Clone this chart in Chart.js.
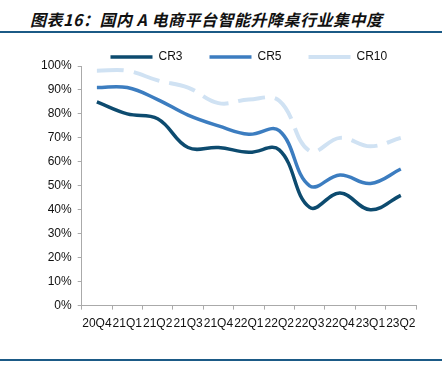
<!DOCTYPE html>
<html>
<head>
<meta charset="utf-8">
<script src="https://cdn.jsdelivr.net/npm/chart.js@4/dist/chart.umd.min.js"></script>
<style>
  html, body { margin: 0; padding: 0; background: #fff; }
  body { width: 442px; height: 366px; position: relative; overflow: hidden; }
  #title {
    position: absolute; left: 30px; top: 7px;
    font-family: "Noto Sans CJK SC", sans-serif; font-size: 16px;
    font-weight: bold; font-style: italic; color: #111; letter-spacing: 0.5px;
  }
  .rule { position: absolute; left: 0; width: 442px; height: 2px; background: #1b5a86; }
  #box { position: absolute; left: 0; top: 22px; width: 442px; height: 316px; }
</style>
</head>
<body>
<div id="title">图表16：国内 A 电商平台智能升降桌行业集中度</div>
<div class="rule" style="top:31px"></div>
<div id="box"><canvas id="chart"></canvas></div>
<div class="rule" style="top:359px"></div>
<script>
// 季度
const quarters = ['20Q4', '21Q1', '21Q2', '21Q3', '21Q4', '22Q1', '22Q2', '22Q3', '22Q4', '23Q1', '23Q2'];
// 集中度 (%)
const cr3 = [85, 80, 78, 66, 66, 64, 65, 41, 47, 40, 46];
const cr5 = [91, 91, 86, 79.5, 75, 71.5, 73, 50, 54.5, 51, 57];
const cr10 = [98, 98, 94, 91, 84.5, 86, 85.5, 64.5, 70, 66.5, 70];

const font = { family: '"Liberation Sans", Arial, sans-serif', size: 12 };

var data = {
  labels: quarters,
  datasets: [
    { label: 'CR3', data: cr3, borderColor: '#0d4b6f', backgroundColor: '#0d4b6f', borderWidth: 3.5 },
    { label: 'CR5', data: cr5, borderColor: '#3c7dc0', backgroundColor: '#3c7dc0', borderWidth: 3.5 },
    { label: 'CR10', data: cr10, borderColor: '#d0e2f3', backgroundColor: '#d0e2f3', borderWidth: 4, borderDash: [27, 10] }
  ]
};
data.datasets.forEach(ds => {
  ds.tension = 0.4;
  ds.pointRadius = 0;
  ds.pointStyle = 'line';
  ds.fill = false;
});

// legend sits closer to the plot than chart.js wants
const legendGap = {
  id: 'legendGap',
  beforeInit(chart) {
    const fit = chart.legend.fit;
    chart.legend.fit = function () {
      fit.bind(chart.legend)();
      this.height -= 7;
    };
  }
};

new Chart('chart', {
  type: 'line',
  data: data,
  plugins: [legendGap],
  options: {
    responsive: true,
    maintainAspectRatio: false,
    animation: false,
    layout: { padding: { left: 35, right: 26, top: 2, bottom: 0 } },
    plugins: {
      tooltip: { enabled: false },
      legend: {
        position: 'top',
        fullSize: false,
        labels: {
          usePointStyle: true,
          pointStyleWidth: 42,
          boxWidth: 42,
          boxHeight: 4,
          padding: 27,
          color: '#111',
          font: font
        }
      }
    },
    scales: {
      x: {
        offset: true,
        grid: { display: true, drawOnChartArea: false, offset: true, tickLength: 4, color: '#aaa' },
        border: { color: '#aaa' },
        ticks: { autoSkip: false, maxRotation: 0, minRotation: 0, color: '#111', font: font, padding: 7 }
      },
      y: {
        min: 0,
        max: 100,
        grid: { display: true, drawOnChartArea: false, tickLength: 4, color: '#aaa' },
        border: { color: '#aaa' },
        ticks: { stepSize: 10, color: '#111', font: font, padding: 6, callback: v => v + '%' }
      }
    }
  }
});
</script>
</body>
</html>
